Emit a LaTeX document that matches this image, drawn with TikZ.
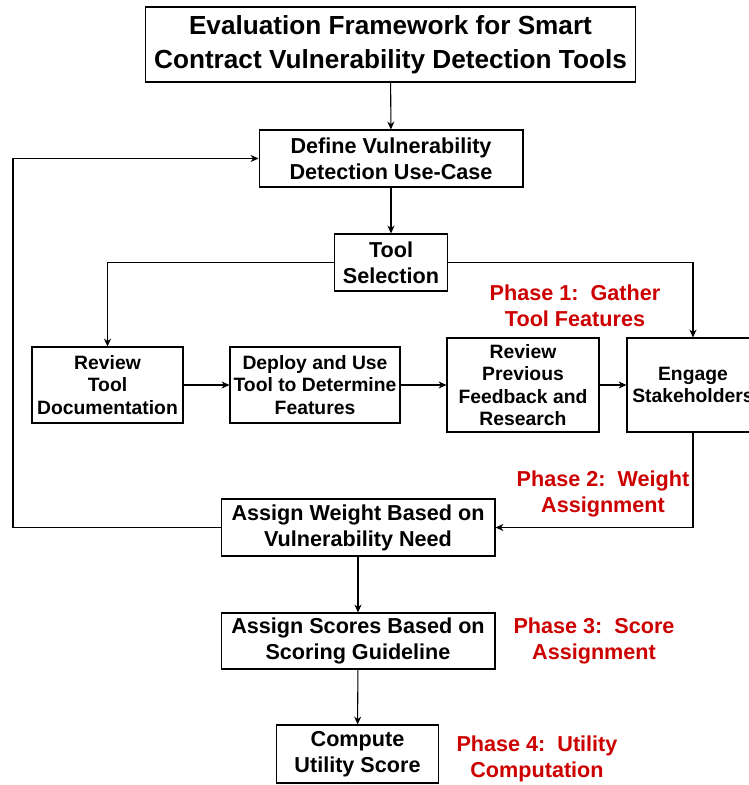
\documentclass[tikz,border=0pt]{standalone}
\usepackage{fontspec}
\setmainfont{Liberation Sans}
\usepackage{tikz}
\usetikzlibrary{arrows.meta}
\definecolor{phasered}{RGB}{204,0,0}

\begin{document}
\begin{tikzpicture}[x=0.02cm, y=-0.02cm,
                box/.style={draw, line width=0.6pt, align=center, inner sep=0pt,
                    font=\bfseries\fontsize{12.3}{14.8}\selectfont},
                rowbox/.style={box, font=\bfseries\fontsize{11}{12.8}\selectfont},
                phase/.style={align=center, text=phasered, inner sep=0pt,
                    font=\bfseries\fontsize{12.3}{14.8}\selectfont},
                arr/.style={-{Stealth[length=4.5pt, width=4pt]}, line width=0.6pt}]
                \clip (0,0) rectangle (749,785);
                \node[box, minimum width=9.82cm, minimum height=1.5cm,
                    font=\bfseries\fontsize{14.9}{19.3}\selectfont] (title) at (390.5,44.5)
                    {Evaluation Framework for Smart\\Contract Vulnerability Detection Tools};
                \node[box, minimum width=5.28cm, minimum height=1.14cm] (define) at (391,158.5)
                    {Define Vulnerability\\Detection Use-Case};
                \node[box, minimum width=2.26cm, minimum height=1.14cm] (toolsel) at (391,262.5)
                    {Tool\\Selection};
                \node[rowbox, minimum width=3.02cm, minimum height=1.52cm] (revdoc) at (107.5,385)
                    {Review\\Tool\\Documentation};
                \node[rowbox, minimum width=3.4cm, minimum height=1.52cm] (deploy) at (315,385)
                    {Deploy and Use\\Tool to Determine\\Features};
                \node[rowbox, minimum width=3.04cm, minimum height=1.88cm] (revprev) at (523,385)
                    {Review\\Previous\\Feedback and\\Research};
                \node[rowbox, minimum width=2.64cm, minimum height=1.88cm] (engage) at (693,385)
                    {Engage\\Stakeholders};
                \node[box, minimum width=5.48cm, minimum height=1.14cm] (weight) at (358,527.5)
                    {Assign Weight Based on\\Vulnerability Need};
                \node[box, minimum width=5.48cm, minimum height=1.12cm] (scores) at (358,641)
                    {Assign Scores Based on\\Scoring Guideline};
                \node[box, minimum width=3.24cm, minimum height=1.16cm] (compute) at (357.5,754)
                    {Compute\\Utility Score};
                % phase labels
                \node[phase] (ph1) at (575,306) {Phase 1:\ \ Gather\\Tool Features};
                \node[phase] (ph2) at (603,494) {Phase 2:\ \ Weight\\Assignment};
                \node[phase] (ph3) at (594,641) {Phase 3:\ \ Score\\Assignment};
                \node[phase] (ph4) at (537,759) {Phase 4:\ \ Utility\\Computation};
                \coordinate (loop) at (13,527.5);
                \draw[arr] (title) -- (define);
                \draw[arr] (define) -- (toolsel);
                \draw[arr] (toolsel.west) -| (revdoc.north);
                \draw[arr] (toolsel.east) -| (engage.north);
                \draw[arr] (revdoc) -- (deploy);
                \draw[arr] (deploy) -- (revprev);
                \draw[arr] (revprev) -- (engage);
                \draw[arr] (engage.south) |- (weight.east);
                \draw[arr] (weight.west) -- (loop) |- (define.west);
                \draw[arr] (weight) -- (scores);
                \draw[arr] (scores) -- (compute);
            \end{tikzpicture}
\end{document}
